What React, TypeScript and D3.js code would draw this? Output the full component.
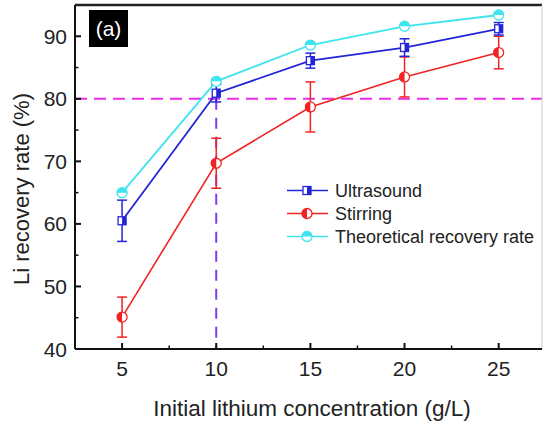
import React from "react";
import * as d3 from "d3";

// Initial lithium concentration (g/L)
const concentrations = [5, 10, 15, 20, 25];
// Li recovery rate (%) per method, with error-bar half widths
const ultrasound = [60.5, 80.9, 86.1, 88.2, 91.2];
const ultrasoundErr = [3.3, 1.4, 1.2, 1.4, 1.0];
const stirring = [45.1, 69.7, 78.7, 83.5, 87.4];
const stirringErr = [3.2, 4.0, 4.0, 3.2, 2.6];
const theoretical = [65.0, 82.8, 88.6, 91.6, 93.4];

const xTicks = [5, 10, 15, 20, 25];
const xMinorTicks = [7.5, 12.5, 17.5, 22.5];
const yTicks = [40, 50, 60, 70, 80, 90];
const yMinorTicks = [45, 55, 65, 75, 85];
const thresholdX = 10;
const thresholdY = 80;

const W = 544;
const H = 423;
const FONT = "'Liberation Sans', Arial, sans-serif";

const BLUE = "#2424d8";
const RED = "#f22222";
const CYAN = "#3ee4ee";
const MAGENTA = "#ea2ee8";
const VIOLET = "#7a3ef0";

const x = d3.scaleLinear().domain([2.5, 27.3]).range([75, 542]);
const y = d3.scaleLinear().domain([40, 95]).range([349, 5]);

type Marker = "square" | "circleLeft" | "circleTop";

function HalfMarker({ kind, cx, cy, color }: { kind: Marker; cx: number; cy: number; color: string }) {
  if (kind === "square") {
    const s = 8;
    return (
      <g>
        <rect x={cx - s / 2} y={cy - s / 2} width={s} height={s} fill="#fff" />
        <rect x={cx} y={cy - s / 2} width={s / 2} height={s} fill={color} />
        <rect x={cx - s / 2} y={cy - s / 2} width={s} height={s} fill="none" stroke={color} strokeWidth={1.3} />
      </g>
    );
  }
  const r = 5;
  const half =
    kind === "circleLeft"
      ? `M${cx},${cy - r}A${r},${r} 0 0 0 ${cx},${cy + r}Z`
      : `M${cx - r},${cy}A${r},${r} 0 0 1 ${cx + r},${cy}Z`;
  return (
    <g>
      <circle cx={cx} cy={cy} r={r} fill="#fff" stroke={color} strokeWidth={1.3} />
      <path d={half} fill={color} />
    </g>
  );
}

function Series({
  values,
  errors,
  color,
  kind,
  width,
}: {
  values: number[];
  errors?: number[];
  color: string;
  kind: Marker;
  width: number;
}) {
  const line = d3
    .line<number>()
    .x((_, i) => x(concentrations[i]))
    .y((v) => y(v));
  return (
    <g>
      <path d={line(values) ?? ""} fill="none" stroke={color} strokeWidth={width} />
      {errors &&
        values.map((v, i) => {
          const cx = x(concentrations[i]);
          const top = y(v + errors[i]);
          const bot = y(v - errors[i]);
          return (
            <g key={i} stroke={color} strokeWidth={1.5}>
              <line x1={cx} x2={cx} y1={top} y2={bot} />
              <line x1={cx - 5} x2={cx + 5} y1={top} y2={top} />
              <line x1={cx - 5} x2={cx + 5} y1={bot} y2={bot} />
            </g>
          );
        })}
      {values.map((v, i) => (
        <HalfMarker key={i} kind={kind} cx={x(concentrations[i])} cy={y(v)} color={color} />
      ))}
    </g>
  );
}

const legendItems: { label: string; color: string; kind: Marker }[] = [
  { label: "Ultrasound", color: BLUE, kind: "square" },
  { label: "Stirring", color: RED, kind: "circleLeft" },
  { label: "Theoretical recovery rate", color: CYAN, kind: "circleTop" },
];

export default function App() {
  const [x0, x1] = x.range();
  const [y0, y1] = y.range();
  return (
    <svg
      width={W}
      height={H}
      style={{ position: "absolute", left: 0, top: 0, background: "#fff", fontFamily: FONT }}
    >
      {/* reference lines */}
      <line
        x1={x0}
        x2={x1}
        y1={y(thresholdY)}
        y2={y(thresholdY)}
        stroke={MAGENTA}
        strokeWidth={2}
        strokeDasharray="12 7"
      />
      <line
        x1={x(thresholdX)}
        x2={x(thresholdX)}
        y1={y(thresholdY)}
        y2={y0}
        stroke={VIOLET}
        strokeWidth={2}
        strokeDasharray="11 8"
      />

      <Series values={stirring} errors={stirringErr} color={RED} kind="circleLeft" width={1.6} />
      <Series values={ultrasound} errors={ultrasoundErr} color={BLUE} kind="square" width={1.8} />
      <Series values={theoretical} color={CYAN} kind="circleTop" width={1.8} />

      {/* frame */}
      <line x1={x0} x2={x1} y1={y1} y2={y1} stroke="#222" strokeWidth={2.5} />
      <line x1={x1} x2={x1} y1={y1} y2={y0} stroke="#ccc" strokeWidth={1} />
      <line x1={x0} x2={x1} y1={y0} y2={y0} stroke="#111" strokeWidth={2} />
      <line x1={x0} x2={x0} y1={y1} y2={y0} stroke="#111" strokeWidth={2} />

      {/* x ticks */}
      {xTicks.map((t) => (
        <g key={t}>
          <line x1={x(t)} x2={x(t)} y1={y0} y2={y0 - 6} stroke="#111" strokeWidth={2} />
          <text x={x(t)} y={376} textAnchor="middle" fontSize={21} fill="#222">
            {t}
          </text>
        </g>
      ))}
      {xMinorTicks.map((t) => (
        <line key={t} x1={x(t)} x2={x(t)} y1={y0} y2={y0 - 3.5} stroke="#111" strokeWidth={1.5} />
      ))}

      {/* y ticks */}
      {yTicks.map((t) => (
        <g key={t}>
          <line x1={x0} x2={x0 + 6} y1={y(t)} y2={y(t)} stroke="#111" strokeWidth={2} />
          <text x={67} y={y(t) + 7.5} textAnchor="end" fontSize={21} fill="#222">
            {t}
          </text>
        </g>
      ))}
      {yMinorTicks.map((t) => (
        <line key={t} x1={x0} x2={x0 + 3.5} y1={y(t)} y2={y(t)} stroke="#111" strokeWidth={1.5} />
      ))}

      {/* axis titles */}
      <text x={312} y={416} textAnchor="middle" fontSize={22.5} fill="#222">
        Initial lithium concentration (g/L)
      </text>
      <text
        transform={`translate(29,189) rotate(-90)`}
        textAnchor="middle"
        fontSize={22}
        fill="#222"
      >
        Li recovery rate (%)
      </text>

      {/* panel tag */}
      <rect x={89} y={10} width={39} height={37} fill="#000" />
      <text x={108.5} y={36} textAnchor="middle" fontSize={21} fill="#fff">
        (a)
      </text>

      {/* legend */}
      {legendItems.map((it, i) => {
        const cy = 190.5 + i * 23;
        return (
          <g key={it.label}>
            <line x1={287} x2={328} y1={cy} y2={cy} stroke={it.color} strokeWidth={1.6} />
            <HalfMarker kind={it.kind} cx={307} cy={cy} color={it.color} />
            <text x={335} y={cy + 6.5} fontSize={18} fill="#222">
              {it.label}
            </text>
          </g>
        );
      })}
    </svg>
  );
}
